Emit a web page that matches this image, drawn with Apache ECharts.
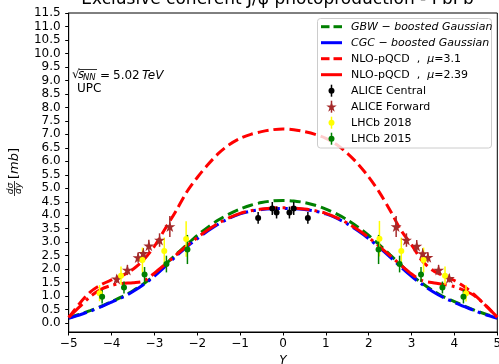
<!DOCTYPE html>
<html>
<head>
<meta charset="utf-8">
<script src="https://cdn.jsdelivr.net/npm/echarts@6/dist/echarts.min.js"></script>
<style>
  html, body { margin: 0; padding: 0; background: #fff; }
  #chart { width: 499px; height: 364px; }
</style>
</head>
<body>
<div id="chart"></div>
<script>
// Rapidity grid shared by the model curves
const rapidity = [-5, -4.75, -4.5, -4.25, -4, -3.75, -3.5, -3.25, -3, -2.75, -2.5, -2.25, -2, -1.75, -1.5, -1.25, -1, -0.75, -0.5, -0.25,
  0, 0.25, 0.5, 0.75, 1, 1.25, 1.5, 1.75, 2, 2.25, 2.5, 2.75, 3, 3.25, 3.5, 3.75, 4, 4.25, 4.5, 4.75, 5];

// Model predictions, dσ/dy in mb
const gbwBoosted = [0.2, 0.32, 0.46, 0.62, 0.8, 0.98, 1.2, 1.46, 1.78, 2.17, 2.54, 2.9, 3.25, 3.56, 3.83, 4.05, 4.23, 4.37, 4.47, 4.53,
  4.55, 4.53, 4.47, 4.37, 4.23, 4.05, 3.83, 3.56, 3.25, 2.9, 2.53, 2.16, 1.78, 1.47, 1.2, 0.97, 0.8, 0.62, 0.46, 0.32, 0.2];
const cgcBoosted = [0.18, 0.3, 0.44, 0.6, 0.78, 0.95, 1.17, 1.43, 1.74, 2.1, 2.47, 2.82, 3.13, 3.42, 3.68, 3.89, 4.05, 4.15, 4.21, 4.24,
  4.25, 4.24, 4.21, 4.15, 4.05, 3.89, 3.68, 3.42, 3.13, 2.8, 2.45, 2.08, 1.73, 1.43, 1.16, 0.94, 0.77, 0.6, 0.44, 0.3, 0.18];
const nloMu31 = [0.2, 0.72, 1.15, 1.42, 1.6, 1.76, 2.0, 2.35, 2.85, 3.5, 4.15, 4.85, 5.4, 5.88, 6.3, 6.62, 6.85, 7.0, 7.1, 7.17,
  7.2, 7.17, 7.1, 7.0, 6.85, 6.62, 6.3, 5.9, 5.42, 4.85, 4.18, 3.45, 2.9, 2.3, 1.95, 1.75, 1.58, 1.33, 1.0, 0.62, 0.22];
const nloMu239 = [0.22, 0.6, 0.98, 1.25, 1.4, 1.47, 1.5, 1.56, 1.85, 2.18, 2.52, 2.86, 3.17, 3.46, 3.71, 3.91, 4.07, 4.17, 4.23, 4.27,
  4.28, 4.27, 4.23, 4.17, 4.07, 3.91, 3.71, 3.46, 3.17, 2.84, 2.5, 2.15, 1.82, 1.57, 1.5, 1.43, 1.35, 1.2, 0.98, 0.62, 0.22];

// Measurements: rapidity, dσ/dy and its uncertainty
const aliceCentralY = [-0.58, -0.25, -0.15, 0.15, 0.25, 0.58];
const aliceCentralXs = [3.9, 4.25, 4.1, 4.1, 4.25, 3.9];
const aliceCentralErr = [0.22, 0.24, 0.22, 0.22, 0.24, 0.22];

const aliceForwardY = [-3.88, -3.63, -3.38, -3.26, -3.13, -2.88, -2.64, 2.64, 2.88, 3.12, 3.26, 3.38, 3.63, 3.88];
const aliceForwardXs = [1.64, 1.97, 2.43, 2.59, 2.87, 3.08, 3.58, 3.58, 3.08, 2.86, 2.58, 2.44, 1.97, 1.66];
const aliceForwardErr = [0.15, 0.19, 0.19, 0.19, 0.22, 0.25, 0.39, 0.39, 0.25, 0.22, 0.19, 0.19, 0.19, 0.15];

const lhcb2018Y = [-4.28, -3.78, -3.28, -2.77, -2.26, 2.25, 2.76, 3.28, 3.78, 4.27];
const lhcb2018Xs = [1.11, 1.76, 2.34, 2.67, 3.12, 3.13, 2.67, 2.34, 1.76, 1.1];
const lhcb2018Err = [0.3, 0.34, 0.46, 0.5, 0.66, 0.66, 0.5, 0.46, 0.34, 0.3];

const lhcb2015Y = [-4.22, -3.71, -3.23, -2.72, -2.23, 2.23, 2.72, 3.22, 3.72, 4.21];
const lhcb2015Xs = [0.98, 1.32, 1.8, 2.19, 2.73, 2.73, 2.19, 1.8, 1.32, 0.98];
const lhcb2015Err = [0.25, 0.22, 0.28, 0.31, 0.54, 0.54, 0.31, 0.28, 0.22, 0.25];

// Axis ticks
const xTicks = [-5, -4, -3, -2, -1, 0, 1, 2, 3, 4, 5];
const yTicks = [0, 0.5, 1, 1.5, 2, 2.5, 3, 3.5, 4, 4.5, 5, 5.5, 6, 6.5, 7, 7.5, 8, 8.5, 9, 9.5, 10, 10.5, 11, 11.5];

const FONT = 'DejaVu Sans';
const STAR = 'path://M0,-1L0.2245,-0.309L0.951,-0.309L0.363,0.118L0.588,0.809L0,0.382L-0.588,0.809L-0.363,0.118L-0.951,-0.309L-0.2245,-0.309Z';
const DASHED = [11, 5];
const DASHDOT = [19, 5, 3, 5];

const zip2 = (a, b) => a.map((v, i) => [v, b[i]]);
const zip3 = (a, b, c) => a.map((v, i) => [v, b[i], c[i]]);

function curve(name, ys, color, dash) {
  return {
    name, type: 'line', data: zip2(rapidity, ys), smooth: 0.3, showSymbol: false, silent: true,
    lineStyle: { color, width: 3, type: dash, cap: 'butt' }, z: 2
  };
}

function errorBars(name, xs, ys, errs, color) {
  return {
    name, type: 'custom', data: zip3(xs, ys, errs), encode: { x: 0, y: 1 }, z: 3, silent: true,
    renderItem(params, api) {
      const x = api.value(0), y = api.value(1), e = api.value(2);
      const lo = api.coord([x, y - e]), hi = api.coord([x, y + e]);
      return { type: 'line', shape: { x1: lo[0], y1: lo[1], x2: hi[0], y2: hi[1] }, style: { stroke: color, lineWidth: 1.5 } };
    }
  };
}

function markers(name, xs, ys, color, symbol, size) {
  return {
    name, type: 'scatter', data: zip2(xs, ys), symbol, symbolSize: size, z: 4, silent: true,
    itemStyle: { color, opacity: 1 }
  };
}

// Five-pointed star outline around a centre, for the legend key
function starPoints(cx, cy, r) {
  const pts = [];
  for (let k = 0; k < 10; k++) {
    const rr = k % 2 === 0 ? r : r * 0.382;
    const a = -Math.PI / 2 + k * Math.PI / 5;
    pts.push([cx + rr * Math.cos(a), cy + rr * Math.sin(a)]);
  }
  return pts;
}

// Legend entries drawn as graphics inside a framed box
const legendEntries = [
  { kind: 'dash', color: '#008000', text: '{i|GBW − boosted Gaussian}' },
  { kind: 'solid', color: '#0000ff', text: '{i|CGC − boosted Gaussian}' },
  { kind: 'dash', color: '#ff0000', text: '{n|NLO-pQCD  ,  }{i|μ}{n|=3.1}' },
  { kind: 'solid', color: '#ff0000', text: '{n|NLO-pQCD  ,  }{i|μ}{n|=2.39}' },
  { kind: 'dot', color: '#000000', text: '{n|ALICE Central}' },
  { kind: 'star', color: '#a52a2a', text: '{n|ALICE Forward}' },
  { kind: 'dot', color: '#ffff00', text: '{n|LHCb 2018}' },
  { kind: 'dot', color: '#008000', text: '{n|LHCb 2015}' }
];

function legendGraphics() {
  const out = [{
    type: 'rect', shape: { x: 317.5, y: 18.5, width: 174, height: 129.5, r: 3 },
    style: { fill: 'rgba(255,255,255,0.8)', stroke: '#cccccc', lineWidth: 1 }, z: 100
  }];
  legendEntries.forEach((it, i) => {
    const cy = 26.7 + i * 16;
    if (it.kind === 'dash') {
      out.push({ type: 'line', shape: { x1: 321, y1: cy, x2: 329.5, y2: cy }, style: { stroke: it.color, lineWidth: 3 }, z: 101 });
      out.push({ type: 'line', shape: { x1: 333.5, y1: cy, x2: 342, y2: cy }, style: { stroke: it.color, lineWidth: 3 }, z: 101 });
    } else if (it.kind === 'solid') {
      out.push({ type: 'line', shape: { x1: 321, y1: cy, x2: 342, y2: cy }, style: { stroke: it.color, lineWidth: 3 }, z: 101 });
    } else {
      out.push({ type: 'line', shape: { x1: 331.5, y1: cy - 6, x2: 331.5, y2: cy + 6 }, style: { stroke: it.color, lineWidth: 1.5 }, z: 101 });
      if (it.kind === 'dot') {
        out.push({ type: 'circle', shape: { cx: 331.5, cy, r: 3 }, style: { fill: it.color }, z: 102 });
      } else {
        out.push({ type: 'polygon', shape: { points: starPoints(331.5, cy + 0.5, 5.5) }, style: { fill: it.color }, z: 102 });
      }
    }
    out.push({
      type: 'text', x: 351, y: cy, z: 102,
      style: {
        text: it.text, verticalAlign: 'middle', align: 'left', fontFamily: FONT, fontSize: 11, fill: '#000',
        rich: { n: { fontFamily: FONT, fontSize: 11 }, i: { fontFamily: FONT, fontSize: 11, fontStyle: 'italic' } }
      }
    });
  });
  return out;
}

const chart = echarts.init(document.getElementById('chart'), null, { renderer: 'canvas' });

const option = {
  animation: false,
  backgroundColor: '#ffffff',
  grid: { left: 68.7, right: 1.7, top: 13, bottom: 32, show: true, borderColor: '#000', borderWidth: 1,
    containLabel: false, outerBoundsMode: 'none' },
  xAxis: {
    type: 'value', min: xTicks[0], max: xTicks[xTicks.length - 1], interval: 1,
    splitLine: { show: false },
    axisLine: { onZero: false, lineStyle: { color: '#000', width: 1 } },
    axisTick: { length: 3.5, lineStyle: { color: '#000' } },
    axisLabel: { margin: 6, color: '#000', fontFamily: FONT, fontSize: 12, formatter: v => String(v).replace('-', '−') },
    name: 'Y', nameLocation: 'middle', nameGap: 22,
    nameTextStyle: { fontFamily: FONT, fontSize: 12, fontStyle: 'italic', color: '#000' }
  },
  yAxis: {
    type: 'value', min: -0.33, max: 11.5,
    splitLine: { show: false },
    axisLine: { onZero: false, lineStyle: { color: '#000', width: 1 } },
    axisTick: { length: 3.5, lineStyle: { color: '#000' }, customValues: yTicks },
    axisLabel: { margin: 8, color: '#000', fontFamily: FONT, fontSize: 12, customValues: yTicks, formatter: v => v.toFixed(1) }
  },
  series: [
    curve('GBW − boosted Gaussian', gbwBoosted, '#008000', DASHED),
    curve('CGC − boosted Gaussian', cgcBoosted, '#0000ff', DASHDOT),
    curve('NLO-pQCD , μ=3.1', nloMu31, '#ff0000', DASHED),
    curve('NLO-pQCD , μ=2.39', nloMu239, '#ff0000', DASHDOT),
    errorBars('ALICE Central', aliceCentralY, aliceCentralXs, aliceCentralErr, '#000000'),
    markers('ALICE Central', aliceCentralY, aliceCentralXs, '#000000', 'circle', 6),
    errorBars('ALICE Forward', aliceForwardY, aliceForwardXs, aliceForwardErr, '#a52a2a'),
    markers('ALICE Forward', aliceForwardY, aliceForwardXs, '#a52a2a', STAR, 11),
    errorBars('LHCb 2018', lhcb2018Y, lhcb2018Xs, lhcb2018Err, '#ffff00'),
    markers('LHCb 2018', lhcb2018Y, lhcb2018Xs, '#ffff00', 'circle', 6),
    errorBars('LHCb 2015', lhcb2015Y, lhcb2015Xs, lhcb2015Err, '#008000'),
    markers('LHCb 2015', lhcb2015Y, lhcb2015Xs, '#008000', 'circle', 6)
  ],
  graphic: [
    // title, partly above the canvas edge
    { type: 'text', x: 277.5, y: 8, z: 50,
      style: { text: 'Exclusive coherent J/ψ photoproduction - PbPb', align: 'center', verticalAlign: 'bottom', fontFamily: FONT, fontSize: 17, fill: '#000' } },
    // y-axis title: dσ/dy [mb], written bottom to top
    { type: 'group', x: 15, y: 172, rotation: Math.PI / 2, z: 50, children: [
      { type: 'text', x: -16.5, y: -4.5, style: { text: 'dσ', align: 'center', verticalAlign: 'middle', fontFamily: FONT, fontSize: 9, fontStyle: 'italic', fill: '#000' } },
      { type: 'line', shape: { x1: -24, y1: -0.5, x2: -9, y2: -0.5 }, style: { stroke: '#000', lineWidth: 0.8 } },
      { type: 'text', x: -16.5, y: 4, style: { text: 'dy', align: 'center', verticalAlign: 'middle', fontFamily: FONT, fontSize: 9, fontStyle: 'italic', fill: '#000' } },
      { type: 'text', x: -7, y: 0, style: { text: '{n|[}{i|mb}{n|]}', align: 'left', verticalAlign: 'middle', fontFamily: FONT, fontSize: 13, fill: '#000',
        rich: { n: { fontFamily: FONT, fontSize: 13 }, i: { fontFamily: FONT, fontSize: 13, fontStyle: 'italic' } } } }
    ] },
    // collision energy annotation
    { type: 'group', x: 0, y: 0, z: 50, children: [
      { type: 'text', x: 72, y: 75, style: { text: '√', verticalAlign: 'middle', fontFamily: FONT, fontSize: 12, fill: '#000' } },
      { type: 'line', shape: { x1: 79, y1: 69.5, x2: 97, y2: 69.5 }, style: { stroke: '#000', lineWidth: 0.8 } },
      { type: 'text', x: 78, y: 75, style: { text: 's', verticalAlign: 'middle', fontFamily: FONT, fontSize: 12, fontStyle: 'italic', fill: '#000' } },
      { type: 'text', x: 83, y: 78, style: { text: 'NN', verticalAlign: 'middle', fontFamily: FONT, fontSize: 8.5, fontStyle: 'italic', fill: '#000' } },
      { type: 'text', x: 100, y: 75.5, style: { text: '=', verticalAlign: 'middle', fontFamily: FONT, fontSize: 12, fill: '#000' } },
      { type: 'text', x: 113, y: 75.5, style: { text: '5.02', verticalAlign: 'middle', fontFamily: FONT, fontSize: 12, fill: '#000' } },
      { type: 'text', x: 142, y: 75.5, style: { text: 'TeV', verticalAlign: 'middle', fontFamily: FONT, fontSize: 12, fontStyle: 'italic', fill: '#000' } },
      { type: 'text', x: 77, y: 89.3, style: { text: 'UPC', verticalAlign: 'middle', fontFamily: FONT, fontSize: 12, fill: '#000' } }
    ] }
  ].concat(legendGraphics())
};

chart.setOption(option);
</script>
</body>
</html>
